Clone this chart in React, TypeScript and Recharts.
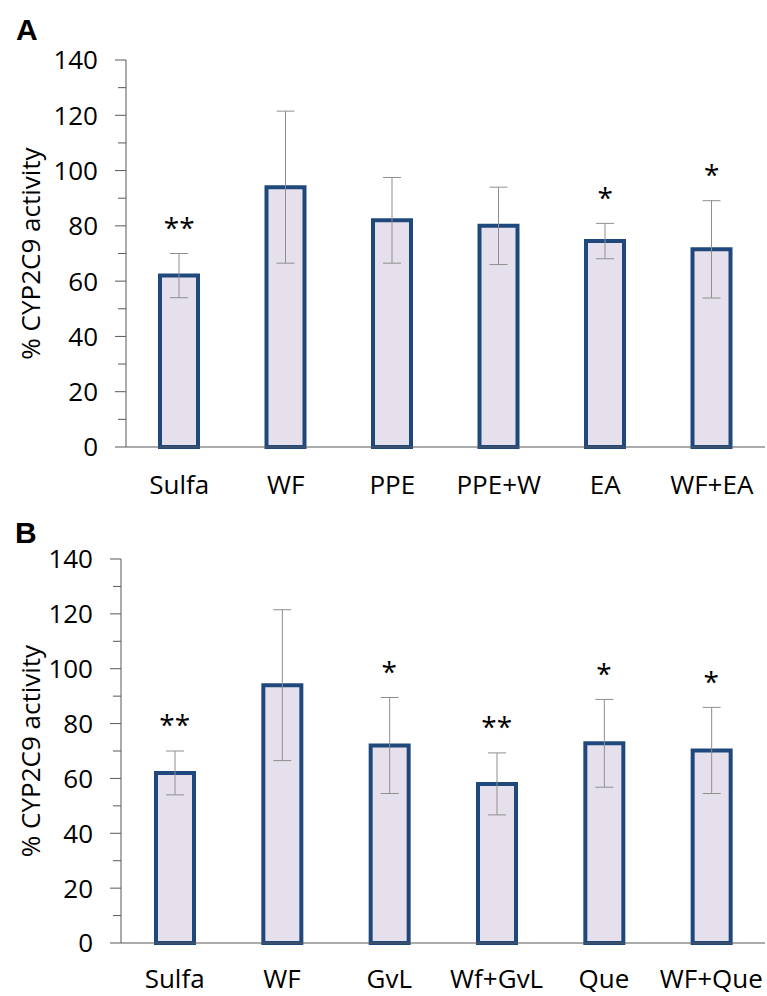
import React from 'react';
import { ComposedChart, Bar, ErrorBar, Scatter, XAxis, YAxis } from 'recharts';

const categoriesA = ['Sulfa', 'WF', 'PPE', 'PPE+W', 'EA', 'WF+EA'];
const meansA = [62, 94, 82, 80, 74.5, 71.5];
const sdA = [8, 27.5, 15.5, 14, 6.4, 17.6];
const starsA = ['**', '', '', '', '*', '*'];

const categoriesB = ['Sulfa', 'WF', 'GvL', 'Wf+GvL', 'Que', 'WF+Que'];
const meansB = [62, 94, 72, 58, 72.8, 70.2];
const sdB = [8, 27.5, 17.5, 11.3, 16, 15.7];
const starsB = ['**', '', '*', '**', '*', '*'];

const yTicks = [0, 10, 20, 30, 40, 50, 60, 70, 80, 90, 100, 110, 120, 130, 140];

const FONT = '"Open Sans", "Noto Sans", sans-serif';
const STAR_GAP = 11.5;

const build = (cats: string[], means: number[], sds: number[], stars: string[]) =>
  cats.map((name, i) => ({
    name,
    mean: means[i],
    sd: sds[i],
    star: stars[i],
    starY: stars[i] ? means[i] + sds[i] + STAR_GAP : null,
  }));

const dataA = build(categoriesA, meansA, sdA, starsA);
const dataB = build(categoriesB, meansB, sdB, starsB);

const YTick = (props: any) => {
  const { x, y, payload } = props;
  const major = payload.value % 20 === 0;
  return (
    <g>
      <line x1={x - (major ? 11 : 8)} x2={x} y1={y} y2={y} stroke="#595959" strokeWidth={1} />
      {major && (
        <text x={x - 28} y={y} dy="0.36em" textAnchor="end" fontFamily={FONT} fontSize={26} fill="#000">
          {payload.value}
        </text>
      )}
    </g>
  );
};

const StarShape = (props: any) => {
  const { cx, cy, payload } = props;
  if (!payload || !payload.star || cy == null || isNaN(cy)) return <g />;
  return (
    <text x={cx} y={cy + 0.57 * 28} textAnchor="middle" fontFamily={FONT} fontSize={28} fill="#000">
      {payload.star}
    </text>
  );
};

const Panel = ({ data, letter, axisWidth, top, height, marginTop, xAxisHeight, tickMargin, letterX, letterY }: any) => (
  <div style={{ position: 'absolute', left: 0, top, width: 767, height }}>
    <ComposedChart
      width={767}
      height={height}
      data={data}
      margin={{ top: marginTop, right: 2, bottom: 0, left: 0 }}
      barCategoryGap={0}
    >
      <XAxis
        dataKey="name"
        interval={0}
        height={xAxisHeight}
        tickLine={false}
        tickSize={0}
        tickMargin={tickMargin}
        axisLine={{ stroke: '#595959', strokeWidth: 1 }}
        tick={{ fontFamily: FONT, fontSize: 26, fill: '#000' }}
      />
      <YAxis
        type="number"
        domain={[0, 140]}
        ticks={yTicks}
        interval={0}
        width={axisWidth}
        tickLine={false}
        tickSize={0}
        tickMargin={0}
        axisLine={{ stroke: '#595959', strokeWidth: 1 }}
        tick={<YTick />}
        label={{
          content: (p: any) => {
            const vb = p.viewBox || { x: 0, y: 0, width: 0, height: 0 };
            const cy = vb.y + vb.height / 2;
            return (
              <g>
                <text
                  x={30}
                  y={cy}
                  transform={`rotate(-90, 30, ${cy})`}
                  textAnchor="middle"
                  dominantBaseline="central"
                  fontFamily={FONT}
                  fontSize={26}
                  fill="#000"
                >
                  % CYP2C9 activity
                </text>
                <text x={letterX} y={letterY} fontFamily='"Liberation Sans", Arial, sans-serif' fontWeight="bold" fontSize={30} fill="#000">
                  {letter}
                </text>
              </g>
            );
          },
        }}
      />
      <Bar dataKey="mean" barSize={38} fill="#E6E0EC" stroke="#1F497D" strokeWidth={4} isAnimationActive={false}>
        <ErrorBar dataKey="sd" width={9} stroke="#8f8f8f" strokeWidth={1} />
      </Bar>
      <Scatter dataKey="starY" shape={<StarShape />} isAnimationActive={false} />
    </ComposedChart>
  </div>
);

export default function App() {
  return (
    <div style={{ position: 'absolute', left: 0, top: 0, width: 767, height: 996, background: '#fff' }}>
      <Panel data={dataA} letter="A" axisWidth={126} top={0} height={508} marginTop={60} xAxisHeight={61} tickMargin={29} letterX={16} letterY={40} />
      <Panel data={dataB} letter="B" axisWidth={121} top={508} height={488} marginTop={51} xAxisHeight={53} tickMargin={27} letterX={15} letterY={35} />
    </div>
  );
}
